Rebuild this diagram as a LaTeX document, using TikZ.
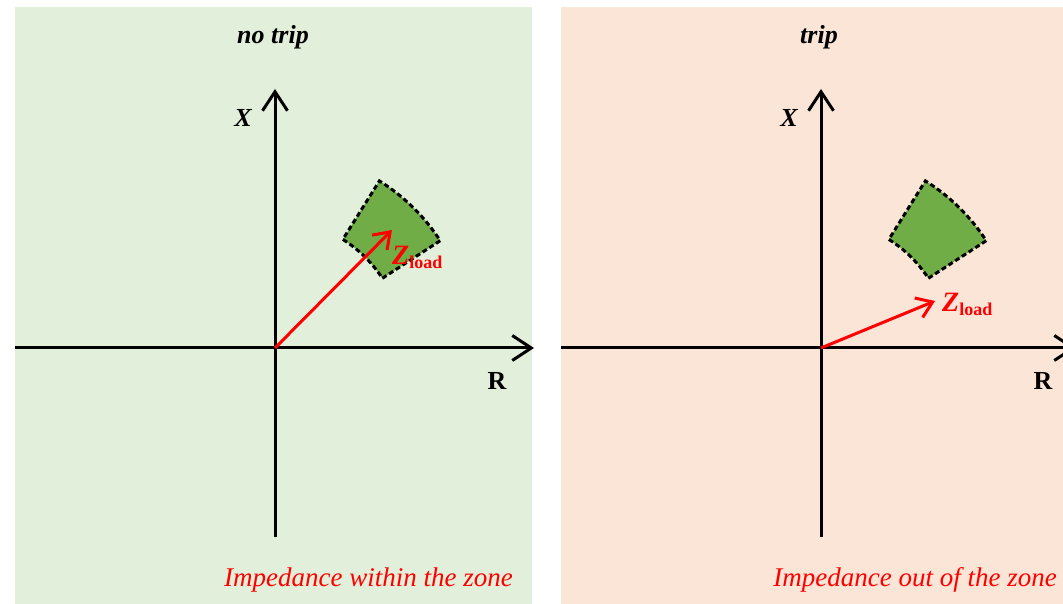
\documentclass[tikz,border=0pt]{standalone}
\usepackage{fontspec}
\setmainfont{Liberation Serif}
\usetikzlibrary{arrows.meta,calc}
\definecolor{okbg}{HTML}{E2EFDA}
\definecolor{tripbg}{HTML}{FBE5D6}
\definecolor{zonegreen}{HTML}{70AD47}
\definecolor{zred}{HTML}{FF0000}
\tikzset{
  axis/.style={line width=3pt,-{Straight Barb[length=19pt,width=25pt,line width=3pt]}},
  zarrow/.style={draw=zred,line width=3pt,-{Straight Barb[length=15pt,width=21pt,line width=3pt]}},
  zone/.style={fill=zonegreen,draw=black,line width=3pt,dash pattern=on 5pt off 3pt},
  big/.style={font=\fontsize{26}{30}\selectfont,inner sep=0pt},
  ttl/.style={big,font=\fontsize{26}{30}\selectfont\bfseries\itshape},
  axlbl/.style={big,font=\fontsize{26}{30}\selectfont\bfseries},
  captext/.style={big,text=zred,font=\fontsize{27}{30}\selectfont\itshape,anchor=base east},
  zlbl/.style={big,text=zred,anchor=base west},
}
\newcommand{\zload}{{\fontsize{28}{30}\selectfont\bfseries\itshape Z}{\fontsize{18}{20}\selectfont\bfseries\raisebox{-4pt}{load}}}
\begin{document}
\begin{tikzpicture}[x=1pt,y=1pt]
\useasboundingbox (0,0) rectangle (1063,604);
\clip (0,0) rectangle (1063,604);
\fill[white] (0,0) rectangle (1063,604);
% panels
\fill[okbg] (15,0) rectangle (532,597);
\fill[tripbg] (561,0) rectangle (1063,597);
% origins and axis ends
\coordinate (O1) at (275,256);
\coordinate (O2) at (821,256);
\coordinate (L1w) at (15,256);
\coordinate (L1e) at (534,256);
\coordinate (L1s) at (275,67);
\coordinate (L1n) at (275,515);
\coordinate (L2w) at (561,256);
\coordinate (L2e) at (1076,256);
\coordinate (L2s) at (821,67);
\coordinate (L2n) at (821,515);
% zones
\draw[zone] ($(O1)+(33:128)$) -- ($(O1)+(33:197)$) arc[start angle=33,end angle=58,radius=197]
  -- ($(O1)+(58:128)$) arc[start angle=58,end angle=33,radius=128] -- cycle;
\draw[zone] ($(O2)+(33:128)$) -- ($(O2)+(33:197)$) arc[start angle=33,end angle=58,radius=197]
  -- ($(O2)+(58:128)$) arc[start angle=58,end angle=33,radius=128] -- cycle;
% axes
\draw[axis] (L1w) -- (L1e);
\draw[axis] (L1s) -- (L1n);
\draw[axis] (L2w) -- (L2e);
\draw[axis] (L2s) -- (L2n);
% impedance arrows
\coordinate (Z1) at (392,374);
\coordinate (Z2) at (935,303);
\draw[zarrow] (O1) -- (Z1);
\draw[zarrow] (O2) -- (Z2);
% labels
\node[ttl] (t1) at (273,567) {no trip};
\node[ttl] (t2) at (819,567) {trip};
\node[ttl] (x1) at (243,486) {X};
\node[ttl] (x2) at (789,486) {X};
\node[axlbl] (r1) at (497,223) {R};
\node[axlbl] (r2) at (1043,223) {R};
\node[zlbl] (zl1) at (392,339) {\zload};
\node[zlbl] (zl2) at (942,292) {\zload};
\node[captext] (c1) at (513,17) {Impedance within the zone};
\node[captext] (c2) at (1057,17) {Impedance out of the zone};
\end{tikzpicture}
\end{document}
